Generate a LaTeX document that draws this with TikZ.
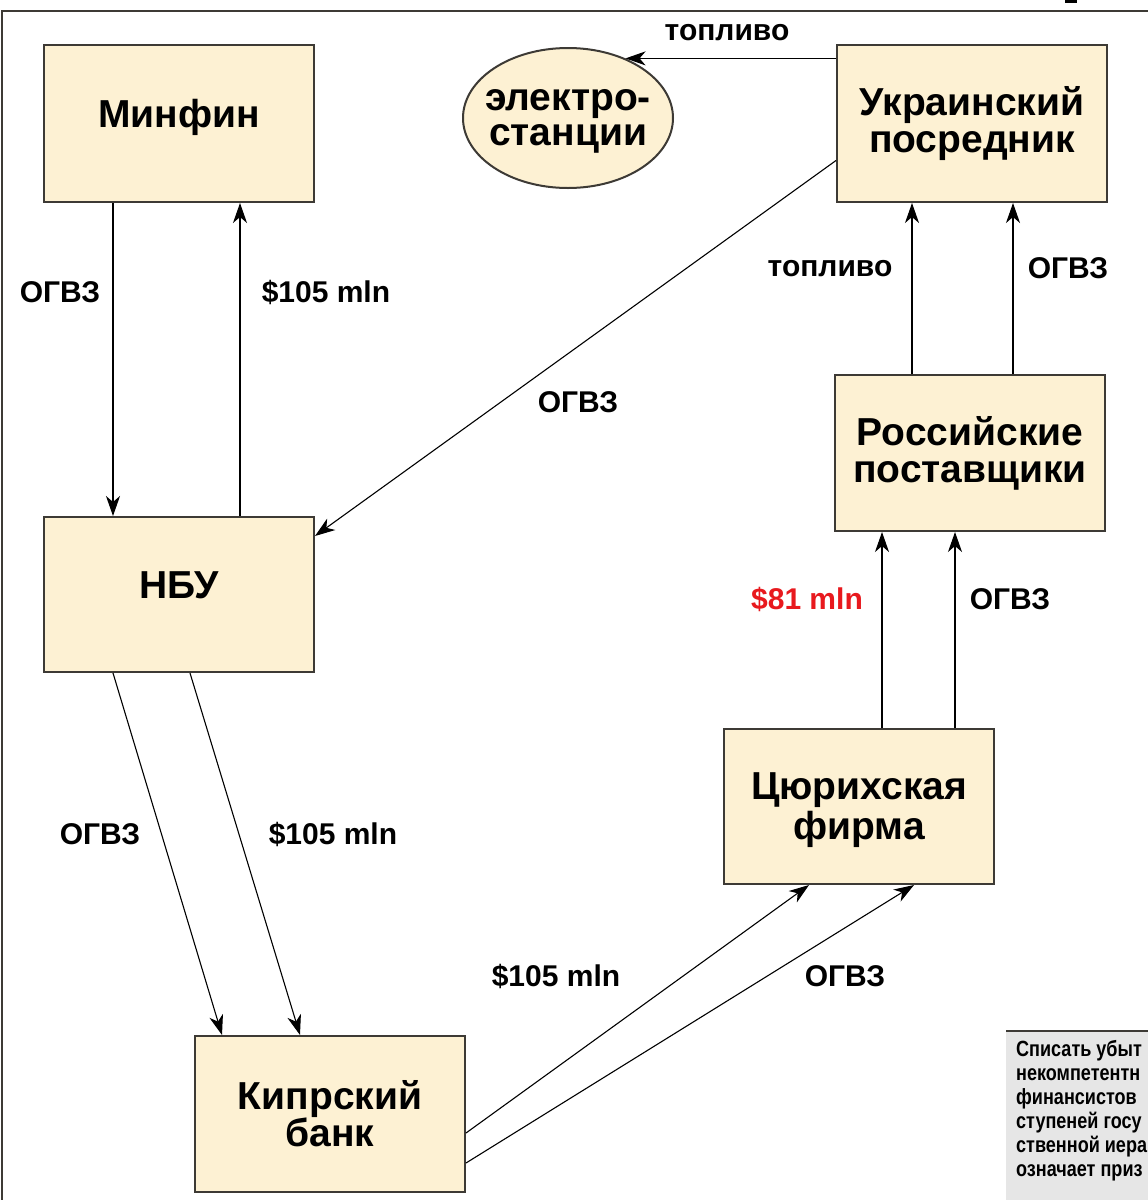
\documentclass[tikz,border=0pt]{standalone}
\usepackage{fontspec}
\setmainfont{Liberation Sans}
\newfontfamily\narrowfont[FakeStretch=0.82]{Liberation Sans}
\usepackage{tikz}
\usetikzlibrary{positioning, arrows.meta, shapes.geometric}

\definecolor{boxfill}{HTML}{FDF1D3}
\definecolor{boxline}{HTML}{3D3A35}
\definecolor{notegray}{HTML}{E6E6E6}
\definecolor{redlbl}{HTML}{E8191E}

% move the text of a node up or down, keeping its size
\newcommand{\shiftlines}[2]{\raisebox{#1}[\height][\depth]{\begin{tabular}{@{}c@{}}#2\end{tabular}}}

\tikzset{
  entity/.style={draw=boxline, line width=2pt, fill=boxfill, minimum width=270pt,
    minimum height=157pt, inner sep=0pt, align=center,
    font=\fontsize{39}{37}\selectfont\bfseries},
  flow/.style={line width=1.1pt, -{Stealth[length=20pt, width=14pt, inset=6pt]}},
  lbl/.style={font=\fontsize{30}{30}\selectfont\bfseries, inner sep=0pt}
}

\begin{document}
\begin{tikzpicture}[x=1pt, y=-1pt]
\clip (0,0) rectangle (1148,1200);
\fill[white] (0,0) rectangle (1148,1200);

% frame
\draw[boxline, line width=2pt] (1.5,1200) -- (1.5,11) -- (1148,11);
\fill (1065,0) rectangle (1077,3);

% boxes
\node[entity] (minfin) at (179,123.5) {\shiftlines{5pt}{Минфин}};
\node[entity] (ukr) at (972,123.5) {Украинский\\посредник};
\node[entity, minimum height=156pt] (rus) at (970,453) {Российские\\поставщики};
\node[entity, minimum height=155pt] (nbu) at (179,594.5) {\shiftlines{4pt}{НБУ}};
\node[entity, minimum height=155pt] (zurich) at (859,806.5) {\shiftlines{-5pt}{Цюрихская\\фирма}};
\node[entity, minimum height=156pt] (cyprus) at (330,1114) {Кипрский\\банк};
\node[entity, ellipse, minimum width=210pt, minimum height=140pt, inner xsep=-12pt,
  inner ysep=0pt, font=\fontsize{39}{35}\selectfont\bfseries] (elec) at (568,118)
  {\shiftlines{-3pt}{электро-\\станции}};

% top row
\draw[flow] (ukr.west |- elec.46) -- (elec.46);
\node[lbl] (l1) at (727,33) {топливо};

% Minfin and NBU
\draw[flow] ([xshift=-66pt]minfin.south) -- ([xshift=-66pt]nbu.north);
\draw[flow] ([xshift=61pt]nbu.north) -- ([xshift=61pt]minfin.south);
\node[lbl] (l2) at (60,292) {ОГВЗ};
\node[lbl] (l3) at (326,292) {\$105 mln};

% Ukrainian intermediary to NBU
\draw[flow] ([yshift=-37pt]ukr.west) -- ([yshift=-20pt]nbu.north east);
\node[lbl] (l4) at (578,402) {ОГВЗ};

% Russian suppliers to Ukrainian intermediary
\draw[flow] ([xshift=-58pt]rus.north) coordinate (r1) -- (r1 |- ukr.south);
\draw[flow] ([xshift=43pt]rus.north) coordinate (r2) -- (r2 |- ukr.south);
\node[lbl] (l5) at (830,269) {топливо};
\node[lbl] (l6) at (1068,268) {ОГВЗ};

% Zurich firm to Russian suppliers
\draw[flow] ([xshift=23pt]zurich.north) coordinate (z1) -- (z1 |- rus.south);
\draw[flow] ([xshift=96pt]zurich.north) coordinate (z2) -- (z2 |- rus.south);
\node[lbl, text=redlbl] (l7) at (807,599) {\$81 mln};
\node[lbl] (l8) at (1010,599) {ОГВЗ};

% NBU to Cyprus bank
\draw[flow] ([xshift=-66pt]nbu.south) -- ([xshift=-108pt]cyprus.north);
\draw[flow] ([xshift=11pt]nbu.south) -- ([xshift=-30pt]cyprus.north);
\node[lbl] (l9) at (100,834) {ОГВЗ};
\node[lbl] (l10) at (333,834) {\$105 mln};

% Cyprus bank to Zurich firm
\draw[flow] ([yshift=-19pt]cyprus.east) -- ([xshift=-50pt]zurich.south);
\draw[flow] ([yshift=-49pt]cyprus.east) -- ([xshift=55pt]zurich.south);
\node[lbl] (l11) at (556,976) {\$105 mln};
\node[lbl] (l12) at (845,976) {ОГВЗ};

% side note
\fill[notegray] (1006,1031) rectangle (1160,1210);
\draw[boxline, line width=2pt] (1006,1031) -- (1160,1031);
\node[anchor=north west, align=left, inner sep=0pt,
  font=\narrowfont\fontsize{22}{24}\selectfont\bfseries] (note) at (1016,1040)
  {Списать убыт\\некомпетентн\\финансистов\\ступеней госу\\ственной иера\\означает приз};
\end{tikzpicture}
\end{document}
